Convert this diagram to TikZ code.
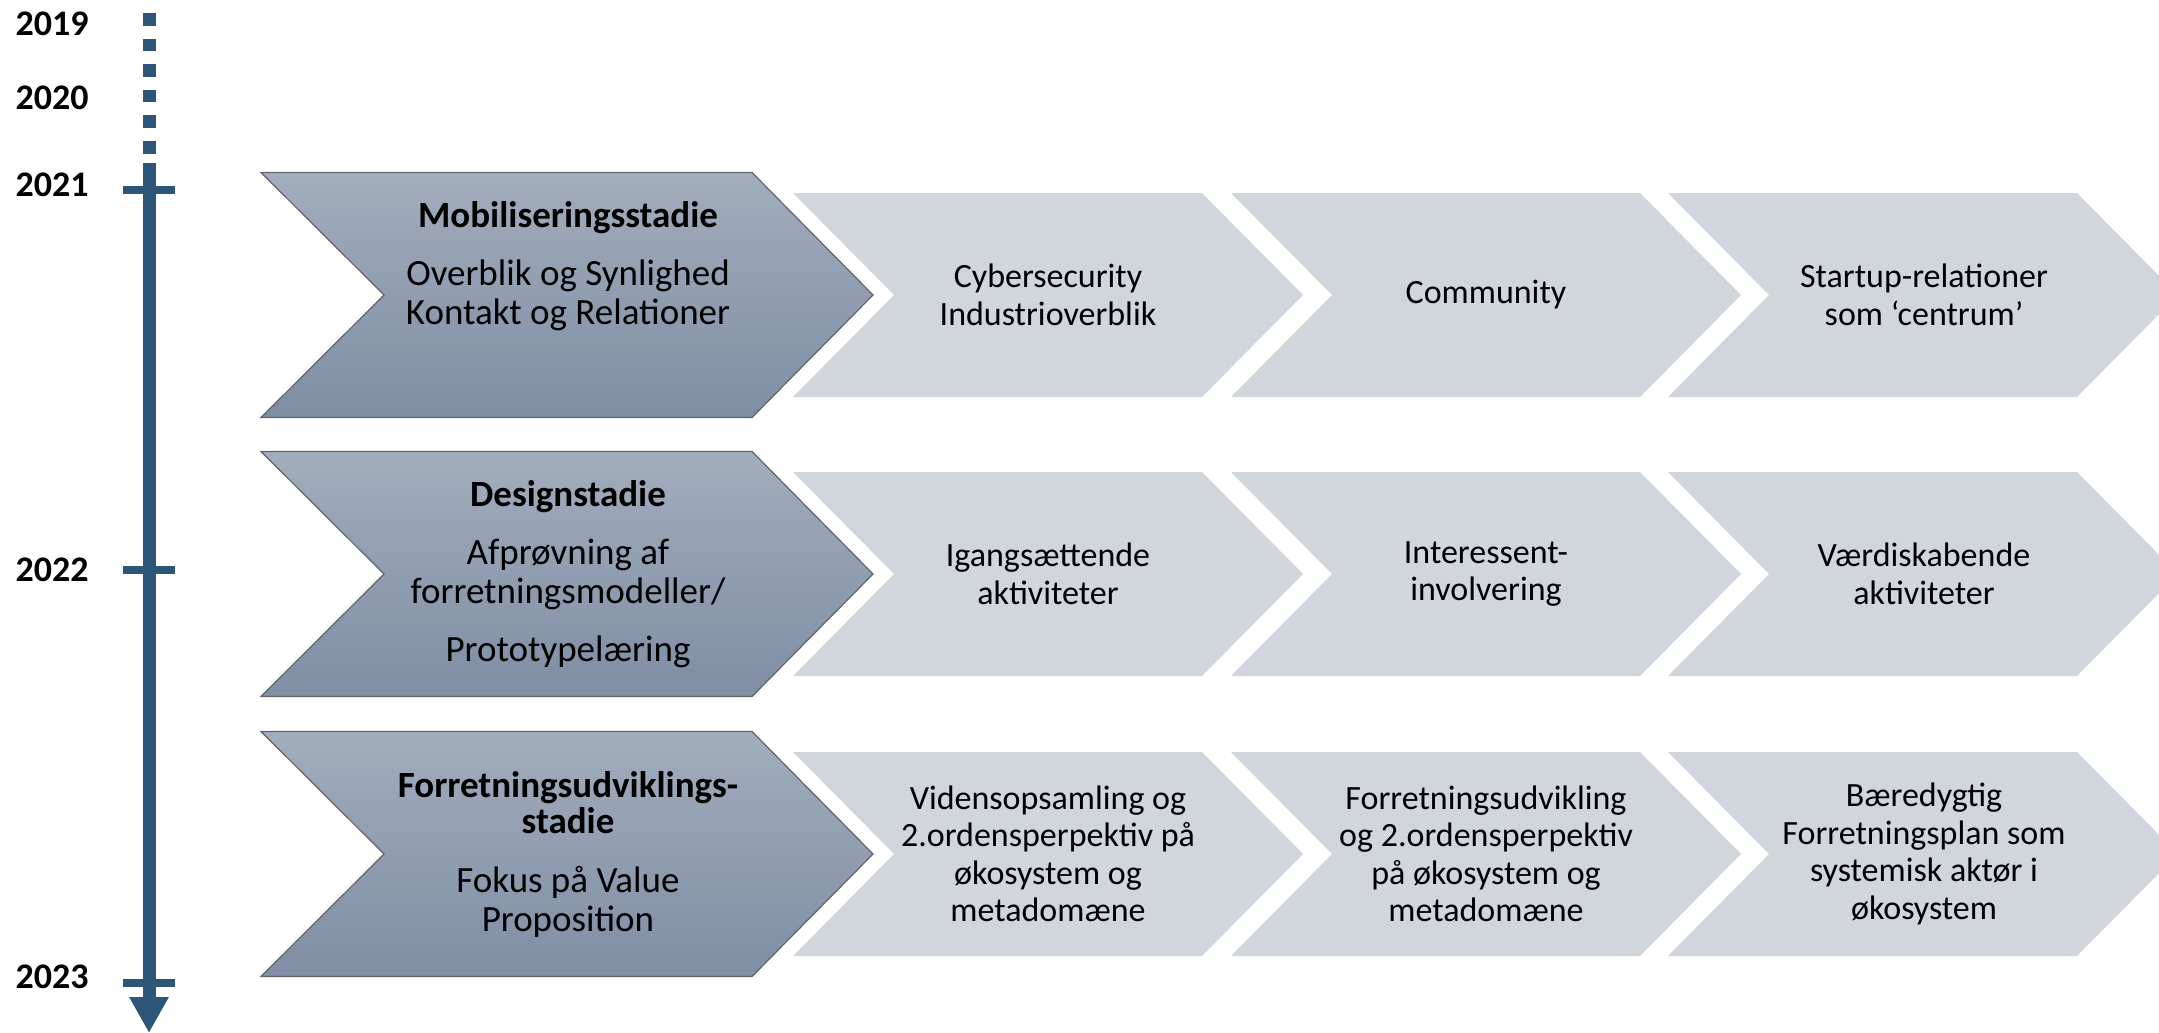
\documentclass[tikz,border=0pt]{standalone}
\usepackage{fontspec}
\setmainfont{Carlito}
\usetikzlibrary{arrows.meta}

\definecolor{axisblue}{HTML}{2C5577}
\definecolor{stagetop}{HTML}{A2ADBD}
\definecolor{stagebot}{HTML}{7F8EA4}
\definecolor{stepgray}{HTML}{D1D5DC}
\definecolor{edgegray}{HTML}{5F646B}

\tikzstyle{stagechev} = [top color=stagetop, bottom color=stagebot,
    draw=edgegray, line width=0.6pt]
\tikzstyle{stepchev} = [fill=stepgray]
\tikzstyle{stagetext} = [align=center, font=\fontsize{18.5}{19.5}\selectfont]
\tikzstyle{steptext} = [align=center, font=\fontsize{17}{18.75}\selectfont]
\tikzstyle{yeartext} = [font=\fontsize{18}{20}\selectfont\bfseries]
\tikzstyle{axisline} = [draw=axisblue, line width=6.5pt]
\tikzstyle{yeartick} = [draw=axisblue, line width=4pt]

\begin{document}
\begin{tikzpicture}[x=0.5pt, y=-0.5pt]
\useasboundingbox (0,0) rectangle (2159,1033);
\clip (0,0) rectangle (2159,1033);

% timeline
\coordinate (dottop) at (149,13);
\coordinate (dotend) at (149,154);
\coordinate (axtop) at (149,163);
\coordinate (axend) at (149,1033);
\draw[axisline, dash pattern=on 6.25pt off 6.55pt] (dottop) -- (dotend);
\draw[axisline, -{Triangle[width=18.5pt, length=18pt]}] (axtop) -- (axend);

\coordinate (t2021) at (149,190);
\coordinate (t2022) at (149,570);
\coordinate (t2023) at (149,983);
\draw[yeartick] ([xshift=-13pt]t2021) -- ([xshift=13pt]t2021);
\draw[yeartick] ([xshift=-13pt]t2022) -- ([xshift=13pt]t2022);
\draw[yeartick] ([xshift=-13pt]t2023) -- ([xshift=13pt]t2023);

\node[yeartext] (y2019) at (52,24) {2019};
\node[yeartext] (y2020) at (52,98) {2020};
\node[yeartext] (y2021) at (52,185) {2021};
\node[yeartext] (y2022) at (52,570) {2022};
\node[yeartext] (y2023) at (52,977) {2023};

% stage chevrons
\path[stagechev] (261,172.5) -- ++(491,0) -- ++(121,122.5) -- ++(-121,122.5)
    -- ++(-491,0) -- ++(123,-122.5) -- cycle;
\path[stagechev] (261,451.5) -- ++(491,0) -- ++(121,122.5) -- ++(-121,122.5)
    -- ++(-491,0) -- ++(123,-122.5) -- cycle;
\path[stagechev] (261,731.5) -- ++(491,0) -- ++(121,122.5) -- ++(-121,122.5)
    -- ++(-491,0) -- ++(123,-122.5) -- cycle;

% step chevrons, row 1
\path[stepchev] (793,193) -- ++(409,0) -- ++(101,102) -- ++(-101,102) -- ++(-409,0) -- ++(101,-102) -- cycle;
\path[stepchev] (1231,193) -- ++(409,0) -- ++(101,102) -- ++(-101,102) -- ++(-409,0) -- ++(101,-102) -- cycle;
\path[stepchev] (1668,193) -- ++(409,0) -- ++(101,102) -- ++(-101,102) -- ++(-409,0) -- ++(101,-102) -- cycle;
% row 2
\path[stepchev] (793,472) -- ++(409,0) -- ++(101,102) -- ++(-101,102) -- ++(-409,0) -- ++(101,-102) -- cycle;
\path[stepchev] (1231,472) -- ++(409,0) -- ++(101,102) -- ++(-101,102) -- ++(-409,0) -- ++(101,-102) -- cycle;
\path[stepchev] (1668,472) -- ++(409,0) -- ++(101,102) -- ++(-101,102) -- ++(-409,0) -- ++(101,-102) -- cycle;
% row 3
\path[stepchev] (793,752) -- ++(409,0) -- ++(101,102) -- ++(-101,102) -- ++(-409,0) -- ++(101,-102) -- cycle;
\path[stepchev] (1231,752) -- ++(409,0) -- ++(101,102) -- ++(-101,102) -- ++(-409,0) -- ++(101,-102) -- cycle;
\path[stepchev] (1668,752) -- ++(409,0) -- ++(101,102) -- ++(-101,102) -- ++(-409,0) -- ++(101,-102) -- cycle;

% stage texts
\node[stagetext] (mobil) at (568,266) {\textbf{Mobiliseringsstadie}\\[9.5pt]
    Overblik og Synlighed\\ Kontakt og Relationer};
\node[stagetext] (design) at (568,574) {\textbf{Designstadie}\\[9.5pt]
    Afprøvning af\\ forretningsmodeller/\\[9.5pt] Prototypelæring};
\node[stagetext] (forret) at (568,854) {\textbf{Forretningsudviklings-}\\[-1.5pt]
    \textbf{stadie}\\[10pt] Fokus på Value\\ Proposition};

% step texts
\node[steptext] (cyber) at (1048,295) {Cybersecurity\\ Industrioverblik};
\node[steptext] (commun) at (1486,295) {Community};
\node[steptext] (startup) at (1924,295) {Startup-relationer\\ som ‘centrum’};

\node[steptext] (igang) at (1048,574) {Igangsættende\\ aktiviteter};
\node[steptext] (interes) at (1486,574) {Interessent-\\ involvering};
\node[steptext] (vaerdi) at (1924,574) {Værdiskabende\\ aktiviteter};

\node[steptext] (viden) at (1048,854) {Vidensopsamling og\\ 2.ordensperpektiv på\\
    økosystem og\\ metadomæne};
\node[steptext] (forudv) at (1486,854) {Forretningsudvikling\\ og 2.ordensperpektiv\\
    på økosystem og\\ metadomæne};
\node[steptext] (baered) at (1924,854) {Bæredygtig\\ Forretningsplan som\\
    systemisk aktør i\\ økosystem};
\end{tikzpicture}
\end{document}
